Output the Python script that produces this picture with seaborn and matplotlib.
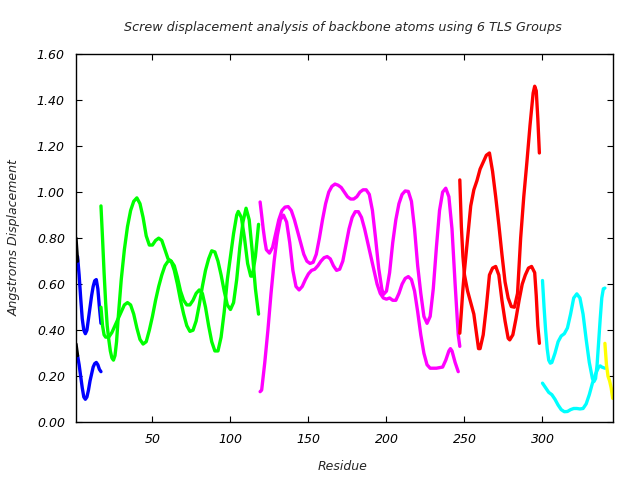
import matplotlib
matplotlib.use("Agg")
import matplotlib.pyplot as plt
import seaborn as sns
import pandas as pd

# ---- data ----
black_res = [1, 2]
black_a = [0.80, 0.70]
black_b = [0.34, 0.29]

blue_res = [2, 3, 4, 5, 6, 7, 8, 9, 10, 11, 12, 13, 14, 15, 16, 17]
blue_a = [0.72, 0.64, 0.54, 0.45, 0.40, 0.385, 0.40, 0.45, 0.50, 0.55, 0.59, 0.615, 0.62, 0.58, 0.50, 0.43]
blue_b = [0.29, 0.25, 0.20, 0.15, 0.11, 0.10, 0.11, 0.14, 0.18, 0.21, 0.24, 0.255, 0.26, 0.25, 0.23, 0.22]

green_a_res = [17, 18, 19, 20, 22, 24, 26, 28, 30, 32, 34, 36, 38, 40, 42, 44, 46, 48, 50, 52, 54,
               56, 58, 60, 62, 64, 66, 68, 70, 72, 74, 76, 78, 80, 82, 84, 86, 88, 90, 92, 94, 96,
               98, 100, 102, 104, 105, 107, 109, 111, 113, 114, 116, 118]
green_a = [0.50, 0.42, 0.38, 0.37, 0.37, 0.39, 0.42, 0.45, 0.48, 0.51, 0.52, 0.51, 0.47, 0.41, 0.36,
           0.34, 0.35, 0.40, 0.46, 0.53, 0.59, 0.64, 0.68, 0.70, 0.70, 0.68, 0.63, 0.57, 0.53, 0.51,
           0.51, 0.53, 0.56, 0.575, 0.56, 0.50, 0.42, 0.35, 0.31, 0.31, 0.37, 0.48, 0.62, 0.72, 0.82,
           0.90, 0.916, 0.89, 0.80, 0.69, 0.635, 0.635, 0.72, 0.86]

green_b_res = [17, 18, 19, 20, 21, 22, 23, 24, 25, 26, 27, 28, 30, 32, 34, 36, 38, 40, 42, 44, 46,
               48, 50, 52, 54, 56, 58, 60, 62, 64, 66, 68, 70, 72, 74, 76, 78, 80, 82, 84, 86, 88,
               90, 92, 94, 96, 98, 100, 102, 104, 106, 108, 110, 112, 114, 116, 118]
green_b = [0.94, 0.80, 0.65, 0.52, 0.42, 0.36, 0.31, 0.28, 0.27, 0.29, 0.35, 0.45, 0.62, 0.75, 0.85,
           0.92, 0.96, 0.975, 0.95, 0.89, 0.81, 0.77, 0.77, 0.79, 0.80, 0.79, 0.75, 0.71, 0.70, 0.66,
           0.60, 0.53, 0.47, 0.42, 0.395, 0.40, 0.44, 0.51, 0.59, 0.66, 0.71, 0.745, 0.74, 0.70, 0.64,
           0.57, 0.51, 0.49, 0.52, 0.62, 0.76, 0.87, 0.93, 0.88, 0.74, 0.58, 0.47]

mag_a_res = [119, 120, 121, 122, 123, 125, 127, 129, 131, 133, 135, 137, 139, 141, 143, 145, 147,
             149, 151, 153, 155, 157, 159, 161, 163, 165, 167, 169, 171, 173, 175, 177, 179, 181,
             183, 185, 187, 189, 191, 193, 195, 197, 198, 200, 202, 204, 206, 208, 210, 212, 214,
             216, 218, 220, 222, 224, 226, 228, 230, 232, 234, 236, 238, 240, 242, 244, 246, 247]
mag_a = [0.957, 0.90, 0.84, 0.79, 0.75, 0.735, 0.76, 0.82, 0.88, 0.92, 0.935, 0.937, 0.92, 0.88,
         0.83, 0.78, 0.73, 0.70, 0.69, 0.695, 0.73, 0.80, 0.88, 0.95, 1.00, 1.025, 1.035, 1.03,
         1.02, 1.00, 0.98, 0.97, 0.97, 0.98, 1.00, 1.01, 1.01, 0.99, 0.92, 0.80, 0.67, 0.58, 0.555,
         0.57, 0.65, 0.78, 0.88, 0.95, 0.99, 1.005, 1.003, 0.96, 0.84, 0.68, 0.56, 0.46, 0.43, 0.46,
         0.58, 0.76, 0.92, 1.00, 1.017, 0.98, 0.84, 0.60, 0.38, 0.33]

mag_b_res = [119, 120, 122, 124, 126, 128, 130, 132, 134, 136, 138, 140, 142, 144, 146, 148, 150,
             152, 154, 156, 158, 160, 162, 164, 166, 168, 170, 172, 174, 176, 178, 180, 182, 184,
             186, 188, 190, 192, 194, 196, 198, 200, 202, 204, 206, 208, 210, 212, 214, 216, 218,
             220, 222, 224, 226, 228, 232, 236, 238, 240, 241, 242, 244, 246]
mag_b = [0.133, 0.14, 0.26, 0.40, 0.56, 0.70, 0.81, 0.88, 0.90, 0.87, 0.78, 0.66, 0.59, 0.575,
         0.59, 0.62, 0.645, 0.66, 0.665, 0.68, 0.70, 0.715, 0.72, 0.71, 0.68, 0.66, 0.665, 0.70,
         0.77, 0.84, 0.89, 0.915, 0.915, 0.89, 0.84, 0.78, 0.72, 0.66, 0.60, 0.56, 0.54, 0.535,
         0.54, 0.53, 0.53, 0.56, 0.60, 0.625, 0.633, 0.62, 0.57, 0.48, 0.38, 0.30, 0.25, 0.235,
         0.235, 0.24, 0.27, 0.31, 0.32, 0.31, 0.26, 0.22]

red_a_res = [247, 248, 249, 250, 252, 254, 256, 258, 259, 260, 262, 264, 266, 268, 270, 272, 274,
             276, 278, 279, 281, 283, 285, 287, 289, 291, 293, 295, 296, 297, 298]
red_a = [1.053, 0.85, 0.72, 0.64, 0.57, 0.52, 0.47, 0.37, 0.32, 0.32, 0.38, 0.50, 0.64, 0.67, 0.677,
         0.64, 0.53, 0.44, 0.365, 0.358, 0.38, 0.45, 0.53, 0.60, 0.64, 0.67, 0.677, 0.65, 0.55, 0.42,
         0.343]

red_b_res = [247, 248, 249, 250, 252, 254, 256, 258, 260, 262, 264, 266, 268, 270, 272, 274, 276,
             278, 280, 282, 284, 286, 288, 290, 292, 294, 295, 296, 297, 298]
red_b = [0.387, 0.48, 0.58, 0.66, 0.80, 0.94, 1.01, 1.05, 1.10, 1.13, 1.16, 1.17, 1.09, 0.98, 0.86,
         0.73, 0.61, 0.54, 0.503, 0.50, 0.56, 0.80, 0.98, 1.13, 1.29, 1.43, 1.46, 1.44, 1.32, 1.17]

cyan_a_res = [300, 301, 302, 303, 304, 305, 306, 308, 310, 312, 314, 316, 318, 320, 322, 324, 326,
              328, 330, 332, 333, 334, 335, 336, 337, 338, 339, 340]
cyan_a = [0.616, 0.50, 0.40, 0.32, 0.27, 0.257, 0.26, 0.30, 0.35, 0.375, 0.385, 0.41, 0.47, 0.54,
          0.558, 0.54, 0.47, 0.36, 0.26, 0.19, 0.177, 0.19, 0.25, 0.35, 0.45, 0.54, 0.58, 0.583]

cyan_b_res = [300, 302, 304, 306, 308, 310, 312, 314, 316, 318, 320, 322, 324, 326, 328, 330, 332,
              334, 336, 337, 338, 340]
cyan_b = [0.17, 0.15, 0.13, 0.12, 0.10, 0.075, 0.055, 0.046, 0.047, 0.055, 0.06, 0.06, 0.058, 0.06,
          0.08, 0.12, 0.17, 0.21, 0.24, 0.245, 0.24, 0.235]

yellow_res = [340, 341, 342, 343, 344, 345]
yellow_a = [0.343, 0.25, 0.20, 0.18, 0.15, 0.104]

x_ticks = [50, 100, 150, 200, 250, 300]
y_ticks = [0.0, 0.2, 0.4, 0.6, 0.8, 1.0, 1.2, 1.4, 1.6]

# ---- plotting ----
sns.set_theme(style="ticks")
plt.rcParams['font.family'] = ['DejaVu Sans']
plt.rcParams['font.style'] = 'italic'

fig = plt.figure(figsize=(6.4, 4.8), dpi=100)
ax = fig.add_axes([76 / 640, 1 - 422.3 / 480, (612.7 - 76) / 640, (422.3 - 54) / 480])

curves = [
    (blue_res, blue_a, "#0000ff"), (blue_res, blue_b, "#0000ff"),
    (black_res, black_a, "#000000"), (black_res, black_b, "#000000"),
    (green_a_res, green_a, "#00ff00"), (green_b_res, green_b, "#00ff00"),
    (mag_a_res, mag_a, "#ff00ff"), (mag_b_res, mag_b, "#ff00ff"),
    (red_a_res, red_a, "#ff0000"), (red_b_res, red_b, "#ff0000"),
    (cyan_a_res, cyan_a, "#00ffff"), (cyan_b_res, cyan_b, "#00ffff"),
    (yellow_res, yellow_a, "#ffff00"),
]
for res, val, col in curves:
    df = pd.DataFrame({"Residue": res, "Disp": val})
    sns.lineplot(data=df, x="Residue", y="Disp", color=col, linewidth=2.4,
                 estimator=None, sort=False, ax=ax)

ax.set_xlim(1, 345)
ax.set_ylim(0, 1.6)
ax.set_xticks(x_ticks)
ax.set_yticks(y_ticks)
ax.set_yticklabels([f"{v:.2f}" for v in y_ticks])
ax.tick_params(direction="in", length=4, width=0.8, top=True, right=True,
               labelsize=9, colors="black", pad=8)
for sp in ax.spines.values():
    sp.set_linewidth(1.0)
    sp.set_color("black")
ax.set_xlabel("")
ax.set_ylabel("")

fig.text(343 / 640, 1 - 27 / 480, "Screw displacement analysis of backbone atoms using 6 TLS Groups",
         ha="center", va="center", fontsize=9.2, style="italic")
fig.text(343 / 640, 1 - 467 / 480, "Residue", ha="center", va="center", fontsize=9, style="italic")
fig.text(14 / 640, 1 - 238 / 480, "Angstroms Displacement", ha="center", va="center",
         rotation=90, fontsize=9, style="italic")

fig.savefig("out.png", dpi=100)
